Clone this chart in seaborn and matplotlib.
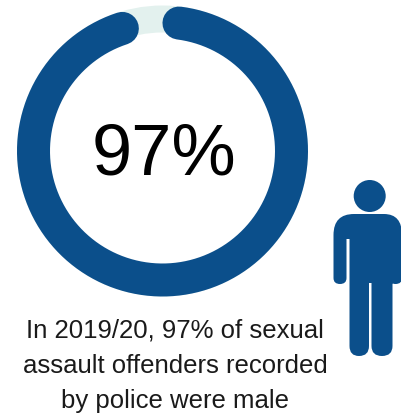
import numpy as np
import pandas as pd
import matplotlib
matplotlib.use("Agg")
import matplotlib.pyplot as plt
from matplotlib.path import Path
from matplotlib.patches import Circle, PathPatch, Wedge
import seaborn as sns

# Share of offenders recorded as male, in percent
male_share = 97
other_share = 100 - male_share
headline = f"{male_share}%"
caption_lines = [
    "In 2019/20, 97% of sexual",
    "assault offenders recorded",
    "by police were male",
]

BLUE = "#0B4F8B"
TRACK = "#E3F1EE"

sns.set_theme(style="white")
plt.rcParams["font.family"] = ["Liberation Sans", "DejaVu Sans"]

fig = plt.figure(figsize=(4.02, 4.14), dpi=100)
ax = fig.add_axes([0, 0, 1, 1])

# Ring geometry in figure pixels
cx, cy = 162.5, 152
r_outer, width, track_width = 145.5, 33, 27
r_mid = r_outer - width / 2

# Pale track behind the ring
ax.add_patch(Wedge((cx, cy), r_outer, 0, 360, width=track_width,
                   facecolor=TRACK, edgecolor="none", zorder=1))

# Male share as a thick arc, clockwise from the top; round caps sit inside the share
cap_frac = (width / 2) / (2 * np.pi * r_mid)
frac = np.linspace(cap_frac, male_share / 100 - cap_frac, 400)
theta = 2 * np.pi * frac
arc = pd.DataFrame({"x": cx + r_mid * np.sin(theta), "y": cy - r_mid * np.cos(theta)})
lw_pt = width * 72 / fig.dpi
sns.lineplot(data=arc, x="x", y="y", sort=False, estimator=None, color=BLUE, linewidth=lw_pt,
             solid_capstyle="round", ax=ax, zorder=2)
ax.set_xlim(0, 402)
ax.set_ylim(414, 0)
ax.set_aspect("equal")
ax.axis("off")

ax.text(164, 156, headline, ha="center", va="center", fontsize=52, color="black", zorder=3)

for line, y in zip(caption_lines, [331, 366, 401.5]):
    ax.text(175, y, line, ha="center", va="center", fontsize=18.55, color="#1a1a1a", zorder=3)

# Person icon
ax.add_patch(Circle((369.7, 197), 16, facecolor=BLUE, edgecolor="none", zorder=3))
M, L, C = Path.MOVETO, Path.LINETO, Path.CURVE3
outline = [
    (M, (354, 215)), (L, (384, 215)),
    (C, (402, 215)), (C, (402, 236)),
    (L, (402, 279)), (C, (402, 285)), (C, (395.5, 285)),
    (C, (389.5, 285)), (C, (389.5, 279)),
    (L, (389.5, 240)), (L, (392.5, 240)), (L, (392.5, 347)),
    (C, (392.5, 357)), (C, (382, 357)),
    (C, (371.5, 357)), (C, (371.5, 347)),
    (L, (371.5, 284)), (L, (369, 284)), (L, (369, 347)),
    (C, (369, 357)), (C, (359, 357)),
    (C, (349.5, 357)), (C, (349.5, 347)),
    (L, (349.5, 240)), (L, (346.5, 240)), (L, (346.5, 279)),
    (C, (346.5, 285)), (C, (340, 285)),
    (C, (333.5, 285)), (C, (333.5, 279)),
    (L, (333.5, 236)), (C, (333.5, 215)), (C, (354, 215)),
    (Path.CLOSEPOLY, (354, 215)),
]
codes, verts = zip(*outline)
ax.add_patch(PathPatch(Path(verts, codes), facecolor=BLUE, edgecolor="none", zorder=3))

fig.savefig("out.png", dpi=100, facecolor="white")
